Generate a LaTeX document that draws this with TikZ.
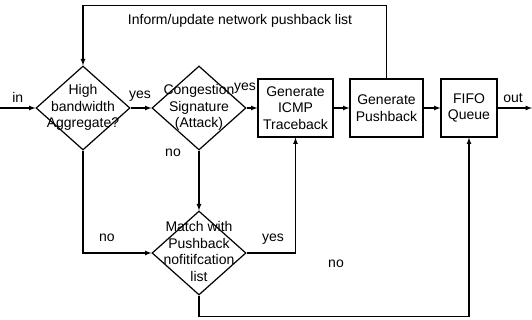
\documentclass[tikz,border=0pt]{standalone}
\usepackage{fontspec}
\setmainfont{Liberation Sans}
\usepackage{tikz}
\usetikzlibrary{positioning,shapes.geometric}

\newcommand{\dlines}[1]{\makebox[0pt]{\begin{tabular}{@{}c@{}}#1\end{tabular}}}

\begin{document}
\begin{tikzpicture}[x=1pt, y=-1pt, >=latex, line width=1.2pt,
  every node/.style={inner sep=1pt, font=\fontsize{14}{16.5}\selectfont},
  decide/.style={draw, shape=diamond, inner sep=0pt, minimum width=94pt, minimum height=84pt},
  stage/.style={draw, rectangle, align=center, minimum height=58pt}]
  \useasboundingbox (0,0) rectangle (532,320);
  % Decisions
  \node[decide] (hba) at (83,108) {\dlines{High\\bandwidth\\Aggregate?}};
  \node[decide] (cong) at (199,108) {\dlines{Congestion\\Signature\\(Attack)}};
  \node[decide] (match) at (199,253) {\dlines{Match with\\Pushback\\nofitifcation\\list}};
  % Processing boxes
  \node[stage, minimum width=75pt] (icmp) at (295.5,108) {Generate\\ICMP\\Traceback};
  \node[stage, minimum width=73pt] (push) at (386.5,108) {Generate\\Pushback};
  \node[stage, minimum width=56pt] (fifo) at (469,108) {FIFO\\Queue};
  % Input and output
  \coordinate (inL) at (0,108);
  \coordinate (outR) at (532,108);
  \draw[->] (inL) -- (hba) node[pos=0.5, above=4pt] (lin) {in};
  \draw[->] (fifo) -- (outR) node[pos=0.45, above=4pt] (lout) {out};
  % Main path
  \draw[->] (hba) -- (cong);
  \draw[->] (cong) -- (icmp);
  \draw[->] (icmp) -- (push);
  \draw[->] (push) -- (fifo);
  % Feedback to the first test
  \draw[->] (push.north) -- ++(0,-73) -| (hba.north);
  \node (linform) at (240,21) {Inform/update network pushback list};
  % Branches to the list check
  \draw[->] (hba.south) |- (match.west);
  \draw[->] (cong.south) -- (match.north);
  \draw[->] (match.east) -| (icmp.south);
  \draw[->] (match.south) -- ++(0,21) -| (fifo.south);
  % Branch labels
  \node (lyes1) at (140,96) {yes};
  \node (lyes2) at (245,88) {yes};
  \node (lno1) at (173,153) {no};
  \node (lno2) at (107,238) {no};
  \node (lyes3) at (273,239) {yes};
  \node (lno3) at (336,264) {no};
\end{tikzpicture}
\end{document}
